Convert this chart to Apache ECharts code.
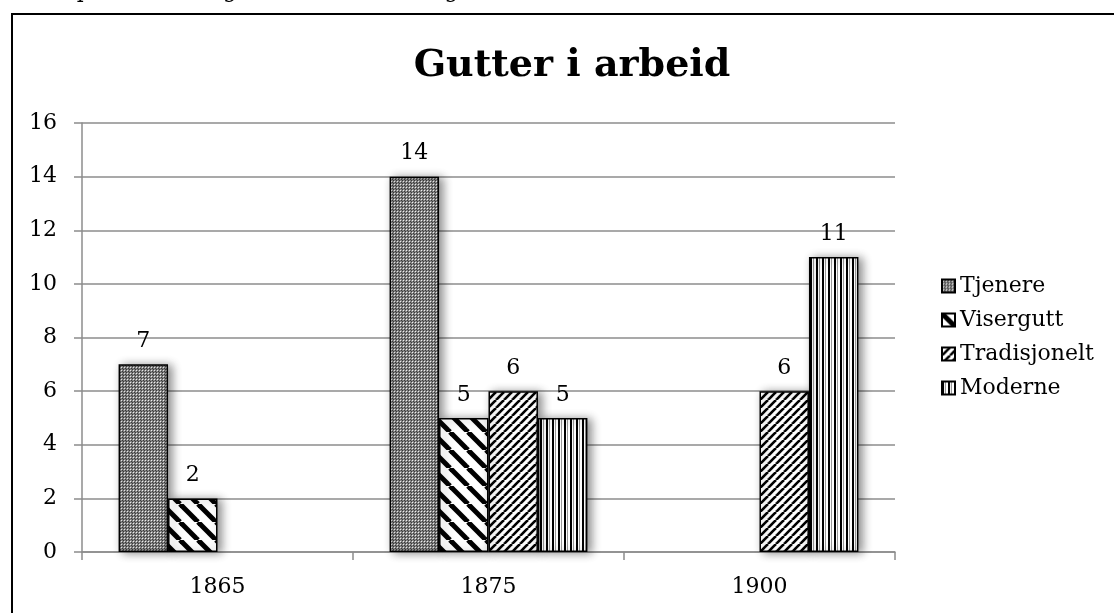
<!DOCTYPE html>
<html>
<head>
<meta charset="utf-8">
<script src="https://cdn.jsdelivr.net/npm/echarts@6/dist/echarts.min.js"></script>
<style>
html,body{margin:0;padding:0;background:#fff;}
#chart{width:1114px;height:613px;}
</style>
</head>
<body>
<div id="chart"></div>
<script>
const titleText = 'Gutter i arbeid';
const captionText = 'basert på folketellingene i 1865, 1875 og 1900.';
const categories = ['1865', '1875', '1900'];
const seriesNames = ['Tjenere', 'Visergutt', 'Tradisjonelt', 'Moderne'];
const tjenere = [7, 14, null];
const visergutt = [2, 5, null];
const tradisjonelt = [null, 6, 6];
const moderne = [null, 5, 11];
const yTicks = { min: 0, max: 16, interval: 2 };

function tile(w, h, draw) {
  const c = document.createElement('canvas');
  c.width = w; c.height = h;
  const ctx = c.getContext('2d');
  draw(ctx, w, h);
  return c;
}
const checker = tile(3, 3, (ctx) => {
  ctx.fillStyle = '#858585'; ctx.fillRect(0, 0, 3, 3);
  ctx.fillStyle = '#3a3a3a'; ctx.fillRect(0, 0, 1, 1); ctx.fillRect(2, 2, 1, 1);
  ctx.fillStyle = '#f0f0f0'; ctx.fillRect(1, 1, 1, 1);
});
function diag(n, lw, back) {
  return tile(n, n, (ctx) => {
    ctx.fillStyle = '#fff'; ctx.fillRect(0, 0, n, n);
    ctx.strokeStyle = '#000'; ctx.lineWidth = lw;
    for (const k of [-n, 0, n]) {
      ctx.beginPath();
      if (back) { ctx.moveTo(k, 0); ctx.lineTo(k + n, n); }
      else { ctx.moveTo(k + n, 0); ctx.lineTo(k, n); }
      ctx.stroke();
    }
  });
}
const wideBack = diag(18, 5, true);
const narrowFwd = diag(8, 2.6, false);
const vert = tile(6, 6, (ctx) => {
  ctx.fillStyle = '#fff'; ctx.fillRect(0, 0, 6, 6);
  ctx.fillStyle = '#000'; ctx.fillRect(0, 0, 2, 6);
  ctx.fillStyle = '#999'; ctx.fillRect(3, 0, 1, 6);
});
const patterns = [checker, wideBack, narrowFwd, vert];
const values = [tjenere, visergutt, tradisjonelt, moderne];

const serif = '"DejaVu Serif", serif';
const chart = echarts.init(document.getElementById('chart'));
chart.setOption({
  animation: false,
  backgroundColor: '#fff',
  title: {
    text: titleText, left: 567, top: 42, textAlign: 'center',
    textStyle: { fontFamily: serif, fontWeight: 'bold', fontSize: 38, color: '#000' }
  },
  graphic: [
    { type: 'text', left: -1, top: -20, style: { text: captionText, font: '22px "DejaVu Serif", serif', fill: '#000' } },
    { type: 'rect', shape: { x: 12, y: 14, width: 1120, height: 620 }, style: { fill: null, stroke: '#000', lineWidth: 2 } }
  ],
  legend: {
    orient: 'vertical', left: 936, top: 270, icon: 'rect',
    itemWidth: 13, itemHeight: 13, itemGap: 12,
    textStyle: { fontFamily: serif, fontSize: 22, color: '#000' },
    data: seriesNames
  },
  grid: { left: 82, right: 219, top: 123, bottom: 61 },
  xAxis: {
    type: 'category', data: categories,
    axisLine: { lineStyle: { color: '#8c8c8c', width: 1.5 } },
    axisTick: { show: true, length: 8, lineStyle: { color: '#8c8c8c', width: 1.5 } },
    axisLabel: { fontFamily: serif, fontSize: 22, color: '#000', margin: 24 }
  },
  yAxis: {
    type: 'value', min: yTicks.min, max: yTicks.max, interval: yTicks.interval,
    axisLine: { show: true, lineStyle: { color: '#8c8c8c', width: 1.5 } },
    axisTick: { show: true, length: 8, lineStyle: { color: '#8c8c8c', width: 1.5 } },
    splitLine: { lineStyle: { color: '#8c8c8c', width: 1.5 } },
    axisLabel: { fontFamily: serif, fontSize: 22, color: '#000', margin: 25 }
  },
  series: seriesNames.map((name, i) => ({
    name, type: 'bar', data: values[i],
    barGap: '0%', barCategoryGap: '27%',
    itemStyle: {
      color: { image: patterns[i], repeat: 'repeat' },
      borderColor: '#000', borderWidth: 1.5,
      shadowColor: 'rgba(0,0,0,0.45)', shadowBlur: 10, shadowOffsetX: 4, shadowOffsetY: 1
    },
    label: {
      show: true, position: 'top', distance: 12,
      fontFamily: serif, fontSize: 22, color: '#000'
    }
  }))
});
</script>
</body>
</html>
